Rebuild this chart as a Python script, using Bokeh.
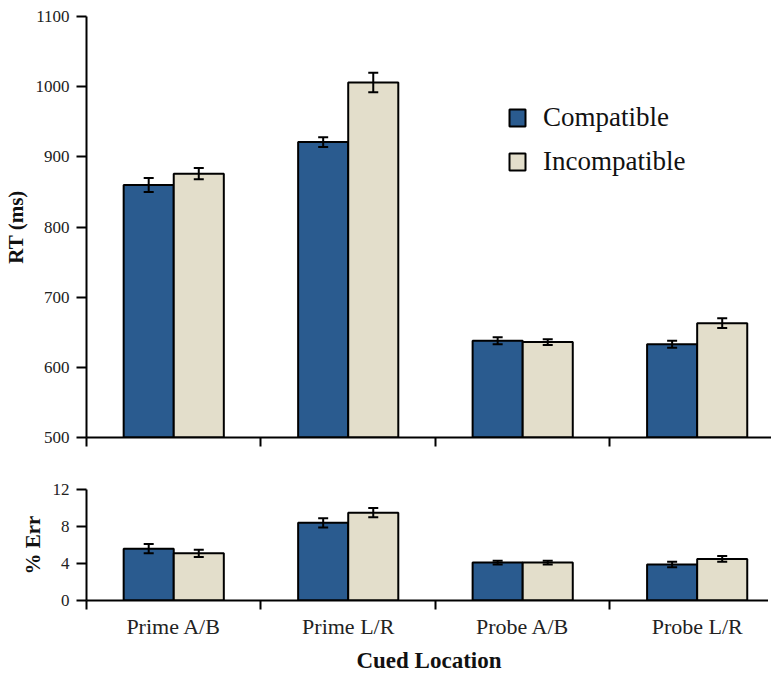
import numpy as np
from bokeh.plotting import figure
from bokeh.models import (ColumnDataSource, Range1d, FixedTicker, Whisker, TeeHead,
                          Legend, LegendItem)
from bokeh.layouts import column
from bokeh.embed import file_html
from bokeh.resources import INLINE

categories = ["Prime A/B", "Prime L/R", "Probe A/B", "Probe L/R"]
series = ["Compatible", "Incompatible"]
rt_compatible = [860, 921, 638, 633]
rt_compatible_se = [10, 7, 5, 5]
rt_incompatible = [876, 1006, 636, 663]
rt_incompatible_se = [8, 14, 4, 7]
err_compatible = [5.6, 8.4, 4.1, 3.9]
err_compatible_se = [0.5, 0.5, 0.2, 0.3]
err_incompatible = [5.1, 9.5, 4.1, 4.5]
err_incompatible_se = [0.4, 0.5, 0.2, 0.3]
rt_ticks = [500, 600, 700, 800, 900, 1000, 1100]
err_ticks = [0, 4, 8, 12]

BLUE = "#2A5B8F"
BEIGE = "#E3DECB"
FONT = "Liberation Serif"
HALF = 0.1435
FRAME_W = 685
X_END = 3.926

pos = np.arange(len(categories)) + 0.5


def style_common(p):
    p.outline_line_color = None
    p.xgrid.grid_line_color = None
    p.ygrid.grid_line_color = None
    p.background_fill_color = "white"
    p.border_fill_color = "white"


def style_yaxis(ax, label, ticks):
    ax.ticker = FixedTicker(ticks=ticks)
    ax.axis_label = label
    ax.axis_line_width = 2
    ax.axis_line_color = "black"
    ax.major_tick_line_width = 2
    ax.major_tick_line_color = "black"
    ax.major_tick_out = 10
    ax.major_tick_in = 0
    ax.minor_tick_line_color = None
    ax.major_label_text_font = FONT
    ax.major_label_text_font_size = "17px"
    ax.major_label_text_color = "#222222"
    ax.major_label_standoff = 7
    ax.axis_label_text_font = FONT
    ax.axis_label_text_font_style = "bold"
    ax.axis_label_text_font_size = "21px"
    ax.axis_label_text_color = "#111111"
    ax.axis_label_standoff = 5


def style_xaxis(ax, with_labels):
    ax.axis_line_width = 2
    ax.axis_line_color = "black"
    ax.minor_tick_line_width = 2
    ax.minor_tick_line_color = "black"
    ax.minor_tick_out = 9
    ax.minor_tick_in = 0
    ax.major_tick_line_color = None
    if with_labels:
        ax.ticker = FixedTicker(ticks=list(pos), minor_ticks=[0, 1, 2, 3, 4])
        ax.major_label_overrides = {float(v): c for v, c in zip(pos, categories)}
        ax.major_label_text_font = FONT
        ax.major_label_text_font_size = "22px"
        ax.major_label_text_color = "#222222"
        ax.major_label_standoff = 4
        ax.axis_label = "Cued Location"
        ax.axis_label_text_font = FONT
        ax.axis_label_text_font_style = "bold"
        ax.axis_label_text_font_size = "23px"
        ax.axis_label_text_color = "#111111"
        ax.axis_label_standoff = 6
    else:
        ax.ticker = FixedTicker(ticks=[], minor_ticks=[0, 1, 2, 3, 4])
        ax.major_label_text_font_size = "0px"
        ax.major_label_standoff = 0


def add_bars(p, comp, comp_se, incomp, incomp_se, base):
    rends = []
    for vals, se, col, off in ((comp, comp_se, BLUE, -HALF), (incomp, incomp_se, BEIGE, HALF)):
        vals = np.array(vals, dtype=float)
        se = np.array(se, dtype=float)
        src = ColumnDataSource(dict(x=pos + off, top=vals, upper=vals + se, lower=vals - se))
        r = p.vbar(x="x", top="top", bottom=base, width=2 * HALF, source=src,
                   fill_color=col, line_color="black", line_width=2)
        w = Whisker(source=src, base="x", upper="upper", lower="lower",
                    line_color="black", line_width=2, level="overlay",
                    upper_head=TeeHead(size=10, line_color="black", line_width=2),
                    lower_head=TeeHead(size=10, line_color="black", line_width=2))
        p.add_layout(w)
        rends.append(r)
    return rends


# Top panel: RT
p1 = figure(frame_width=FRAME_W, frame_height=421, x_range=Range1d(0, X_END),
            y_range=Range1d(500, 1100), output_backend="svg", toolbar_location=None,
            min_border_left=83, min_border_right=0, min_border_top=16, min_border_bottom=26)
style_common(p1)
rends = add_bars(p1, rt_compatible, rt_compatible_se, rt_incompatible, rt_incompatible_se, 500)
style_yaxis(p1.yaxis[0], "RT (ms)", rt_ticks)
style_xaxis(p1.xaxis[0], False)

legend = Legend(items=[LegendItem(label=series[0], renderers=[rends[0]]),
                       LegendItem(label=series[1], renderers=[rends[1]])],
                location=(421, 260), border_line_color=None, background_fill_alpha=0,
                glyph_width=20, glyph_height=21, label_text_font=FONT,
                label_text_font_size="27px", label_text_color="#111111",
                spacing=13, padding=0, margin=0, label_standoff=16)
p1.add_layout(legend)

# Bottom panel: % Err
p2 = figure(frame_width=FRAME_W, frame_height=111, x_range=Range1d(0, X_END),
            y_range=Range1d(0, 12), output_backend="svg", toolbar_location=None,
            min_border_left=83, min_border_right=0, min_border_top=26, min_border_bottom=0)
style_common(p2)
add_bars(p2, err_compatible, err_compatible_se, err_incompatible, err_incompatible_se, 0)
style_yaxis(p2.yaxis[0], "% Err", err_ticks)
style_xaxis(p2.xaxis[0], True)

layout = column(p1, p2, spacing=0)
open("out.html", "w").write(file_html(layout, INLINE))
